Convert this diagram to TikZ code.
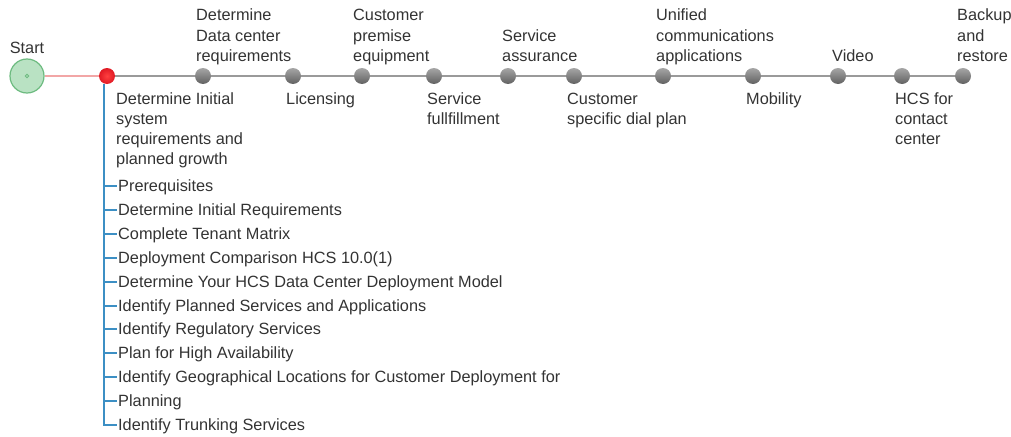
\documentclass[tikz,border=0pt]{standalone}
\usepackage{fontspec}
\setmainfont{Liberation Sans}
\definecolor{txtgray}{HTML}{333333}
\definecolor{linegray}{HTML}{9A9A9A}
\definecolor{linepink}{HTML}{F2A6A6}
\definecolor{startfill}{HTML}{B9E2C3}
\definecolor{startedge}{HTML}{6DBB80}
\definecolor{treeblue}{HTML}{3C8FC4}
\definecolor{nowred}{HTML}{FF4040}
\definecolor{nowedge}{HTML}{E01A24}
\tikzset{
    milestone/.style={circle, inner sep=0pt, minimum size=16pt, top color=black!35, bottom color=black!62},
    current/.style={circle, inner sep=0pt, minimum size=16pt, inner color=nowred, outer color=nowedge},
    startdot/.style={circle, draw=startedge, line width=1.2pt, fill=startfill, minimum size=34pt, inner sep=0pt},
    upper/.style={anchor=base west, align=left, inner sep=0pt, text=txtgray},
    lower/.style={anchor=base west, align=left, inner sep=0pt, text=txtgray},
    item/.style={anchor=west, inner sep=1pt, text height=11.5pt, text depth=0pt, text=txtgray},
}
\begin{document}
\begin{tikzpicture}[x=1pt, y=-1pt, font=\fontsize{16.3}{20}\selectfont]
    \useasboundingbox (0,0) rectangle (1011,436);

    % start and current step
    \node[startdot] (start) at (27,76) {};
    \draw[startedge, line width=0.8pt] (start.center) circle (1.8pt);
    \node[anchor=base, inner sep=0pt, text=txtgray] (startlabel) at (27,54) {Start};
    \node[current] (now) at (107,76) {};

    % milestones along the line
    \node[milestone] (dc) at (203,76) {};
    \node[milestone] (lic) at (293,76) {};
    \node[milestone] (cpe) at (362,76) {};
    \node[milestone] (ful) at (434,76) {};
    \node[milestone] (ass) at (508,76) {};
    \node[milestone] (dial) at (574,76) {};
    \node[milestone] (uc) at (663,76) {};
    \node[milestone] (mob) at (753,76) {};
    \node[milestone] (vid) at (838,76) {};
    \node[milestone] (cc) at (902,76) {};
    \node[milestone] (bak) at (963,76) {};

    \draw[linepink, line width=1.2pt] (start) -- (now);
    \draw[linegray, line width=1.6pt] (now) -- (dc) -- (lic) -- (cpe) -- (ful) -- (ass)
        -- (dial) -- (uc) -- (mob) -- (vid) -- (cc) -- (bak);

    % labels above (base = last line)
    \node[upper] (dclabel) at (196,61) {Determine\\Data center\\requirements};
    \node[upper] (cpelabel) at (353,61) {Customer\\premise\\equipment};
    \node[upper] (asslabel) at (502,61) {Service\\assurance};
    \node[upper] (uclabel) at (656,61) {Unified\\communications\\applications};
    \node[upper] (vidlabel) at (832,61) {Video};
    \node[upper] (baklabel) at (957,61) {Backup\\and\\restore};

    % labels below (base = last line)
    \node[lower] (nowlabel) at (116,164) {Determine Initial\\system\\requirements and\\planned growth};
    \node[lower] (liclabel) at (286,104) {Licensing};
    \node[lower] (fullabel) at (427,124) {Service\\fullfillment};
    \node[lower] (diallabel) at (567,124) {Customer\\specific dial plan};
    \node[lower] (moblabel) at (746,104) {Mobility};
    \node[lower] (cclabel) at (895,144) {HCS for\\contact\\center};

    % sub steps of the current step
    \coordinate (branch) at (104,84);
    \node[item] (s1) at (117,186) {Prerequisites};
    \node[item] (s2) at (117,210) {Determine Initial Requirements};
    \node[item] (s3) at (117,234) {Complete Tenant Matrix};
    \node[item] (s4) at (117,258) {Deployment Comparison HCS 10.0(1)};
    \node[item] (s5) at (117,282) {Determine Your HCS Data Center Deployment Model};
    \node[item] (s6) at (117,306) {Identify Planned Services and Applications};
    \node[item] (s7) at (117,329) {Identify Regulatory Services};
    \node[item] (s8) at (117,353) {Plan for High Availability};
    \node[item] (s9) at (117,377) {Identify Geographical Locations for Customer Deployment for};
    \node[item] (s10) at (117,401) {Planning};
    \node[item] (s11) at (117,425) {Identify Trunking Services};

    \draw[treeblue, line width=1.2pt] (branch) |- (s11.west);
    \foreach \s in {s1,s2,s3,s4,s5,s6,s7,s8,s9,s10}
        \draw[treeblue, line width=1.2pt] (branch |- \s.west) -- (\s.west);
\end{tikzpicture}
\end{document}
